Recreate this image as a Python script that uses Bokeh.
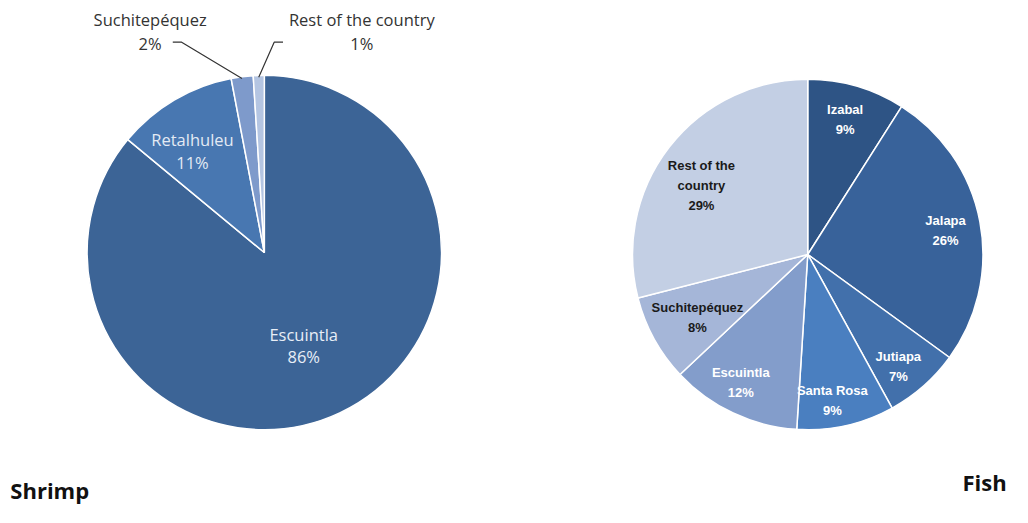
import numpy as np
from bokeh.plotting import figure
from bokeh.models import Range1d, ColumnDataSource
from bokeh.core.properties import value
from bokeh.embed import file_html
from bokeh.resources import INLINE

# ---------------- data ----------------
shrimp_regions = ["Escuintla", "Retalhuleu", "Suchitepéquez", "Rest of the country"]
shrimp_pct = [86, 11, 2, 1]
shrimp_colors = ["#3c6496", "#4877b1", "#7e9acb", "#b4c5e2"]

fish_regions = ["Izabal", "Jalapa", "Jutiapa", "Santa Rosa", "Escuintla", "Suchitepéquez", "Rest of the country"]
fish_pct = [9, 26, 7, 9, 12, 8, 29]
fish_colors = ["#2e5485", "#38629a", "#4270ab", "#4a7fc0", "#839dcb", "#a5b6d8", "#c3cfe4"]

W, H = 1012, 507
RW, RH = 1028, 523  # reference layout space


def sy(y):
    return RH - y


def sx(x):
    return x


p = figure(width=W, height=H, output_backend="svg", toolbar_location=None,
           x_range=Range1d(0, RW), y_range=Range1d(0, RH), min_border=0)
p.axis.visible = False
p.grid.visible = False
p.outline_line_color = None
p.background_fill_color = "white"


def pie(vals, colors, cx, cy, r):
    vals = np.array(vals, dtype=float)
    frac = vals / vals.sum()
    cum = np.concatenate([[0], np.cumsum(frac)]) * 2 * np.pi
    start = np.pi / 2 - cum[1:]
    end = np.pi / 2 - cum[:-1]
    src = ColumnDataSource(dict(start=start, end=end, color=colors))
    p.wedge(x=cx, y=cy, radius=r, start_angle="start", end_angle="end",
            fill_color="color", line_color="white", line_width=1.5, source=src)
    return (start + end) / 2


# Shrimp pie
scx, scy, sr = sx(268), sy(260), 180
smids = pie(shrimp_pct, shrimp_colors, scx, scy, sr)

# Fish pie
fcx, fcy, fr = sx(820), sy(262), 178
fmids = pie(fish_pct, fish_colors, fcx, fcy, fr)

cal = value("Open Sans")
narrow = value("Liberation Sans")


def label(x, y, lines, color, font, size, style="normal", gap=21):
    n = len(lines)
    for i, t in enumerate(lines):
        yy = y + (i - (n - 1) / 2) * gap
        p.text(x=[sx(x)], y=[sy(yy)], text=[t], text_font=font, text_font_size=size,
               text_font_style=style, text_color=color, text_align="center",
               text_baseline="middle")


# Shrimp labels
label(308, 356, [shrimp_regions[0], f"{shrimp_pct[0]}%"], "#e8eef7", cal, "16.5px", gap=23)
label(195, 155, [shrimp_regions[1], f"{shrimp_pct[1]}%"], "#e3eaf4", cal, "16.5px", gap=24)
label(152, 32, [shrimp_regions[2], f"{shrimp_pct[2]}%"], "#333333", cal, "16.5px", gap=24)
label(367, 32, [shrimp_regions[3], f"{shrimp_pct[3]}%"], "#333333", cal, "16.5px", gap=24)

# leader lines
for mid, (x0, x1) in zip(smids[2:], [(175, 184), (287, 278)]):
    ex = scx + (sr + 1) * np.cos(mid)
    ey = scy + (sr + 1) * np.sin(mid)
    p.line(x=[sx(x0), sx(x1), ex], y=[sy(43), sy(43), ey], line_color="#333333", line_width=1.2)

# Fish labels
fl = [
    (858, 123, ["Izabal"], "white"),
    (960, 237, ["Jalapa"], "white"),
    (912, 378, ["Jutiapa"], "white"),
    (845, 413, ["Santa Rosa"], "white"),
    (752, 394, ["Escuintla"], "white"),
    (708, 327, ["Suchitepéquez"], "#1a1a1a"),
    (712, 191, ["Rest of the", "country"], "#1a1a1a"),
]
for (x, y, names, col), pct in zip(fl, fish_pct):
    label(x, y, names + [f"{pct}%"], col, narrow, "13px", style="bold", gap=20.5)

# Titles
p.text(x=[sx(10)], y=[sy(505)], text=["Shrimp"], text_font=cal, text_font_size="22px",
       text_font_style="bold", text_color="#111111", text_align="left", text_baseline="middle")
p.text(x=[sx(1022)], y=[sy(497)], text=["Fish"], text_font=cal, text_font_size="22px",
       text_font_style="bold", text_color="#111111", text_align="right", text_baseline="middle")

open("out.html", "w").write(file_html(p, INLINE))
